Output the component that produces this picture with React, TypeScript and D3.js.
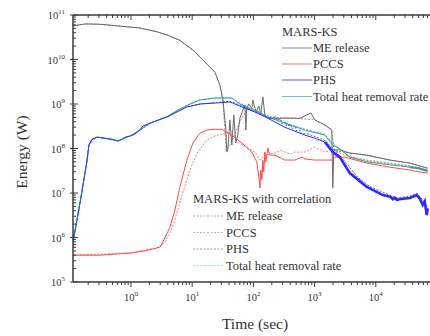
import { useEffect, useRef } from "react";
import * as d3 from "d3";

type Pt = [number, number];

// time (s), energy rate (W)
const meRelease: Pt[] = [
  [0.113, 5.7e10], [0.18, 6.3e10], [0.31, 6.2e10], [0.6, 5.7e10], [1.4, 5.1e10], [2.66, 4.2e10],
  [3.87, 3.55e10], [6.3, 2.7e10], [10.3, 1.63e10], [15, 9.75e9], [23.5, 5.2e9], [28.4, 2.67e9],
  [31.8, 1.23e9], [35.6, 2.6e8], [36.9, 8.3e7], [38.3, 9.3e7], [41.3, 4.4e8], [44.5, 1.2e8],
  [47.9, 5.7e8], [51.6, 1.33e8], [55.6, 2e8], [60.2, 4.8e8], [67.3, 7.3e8], [72.6, 9.5e8],
  [75.3, 2.6e8], [78.2, 8.1e8], [84.2, 1e9], [94.2, 8.1e8], [97.8, 1.23e9], [110, 6.6e8],
  [123, 9e8], [132, 5.7e8], [143, 1.44e9], [154, 5.7e8], [172, 4.8e8], [271, 4.8e8], [476, 4.8e8],
  [575, 4.8e8], [750, 5.7e8], [870, 6.3e8], [1009, 4.4e8], [1470, 3.4e8], [1910, 2.6e8],
  [1985, 1.3e7], [2060, 9.3e7], [2585, 9.3e7], [3765, 7.9e7], [7140, 7.1e7], [16940, 5.5e7],
  [35900, 4.7e7], [70600, 3.6e7],
];
const pccs: Pt[] = [
  [0.113, 4e5], [0.31, 4e5], [0.66, 4.3e5], [1, 4.5e5], [1.69, 5e5], [2.66, 5.8e5], [2.97, 6.1e5],
  [3.33, 7.9e5], [4.33, 1.7e6], [5.23, 4.15e6], [6.31, 1.37e7], [8.2, 5.5e7], [10.3, 1.33e8],
  [13.4, 2.2e8], [17.4, 2.6e8], [23.5, 2.7e8], [30.6, 2.7e8], [44.5, 2e8], [64.9, 1.33e8],
  [94.2, 8.3e7], [114, 5e7], [123, 2.2e7], [128, 1.3e7], [132, 3.3e7], [138, 2e7], [143, 5.5e7],
  [148, 3e7], [154, 8.3e7], [160, 5e7], [172, 1.03e8], [186, 7.1e7], [224, 7.1e7], [327, 5.5e7],
  [476, 5.5e7], [619, 6.4e7], [700, 5.8e7], [1009, 5.5e7], [1910, 5.5e7], [2142, 6.4e7],
  [3120, 6.4e7], [7140, 4.7e7], [16940, 3.8e7], [35900, 3.3e7], [50000, 3e7], [70600, 2.8e7],
];
const phs: Pt[] = [
  [0.113, 7.9e5], [0.15, 7e6], [0.19, 5e7], [0.206, 1.2e8], [0.23, 1.6e8], [0.28, 1.8e8],
  [0.38, 1.7e8], [0.49, 1.6e8], [0.61, 1.48e8], [0.71, 1.6e8], [0.8, 1.8e8], [0.96, 1.9e8],
  [1.16, 2.1e8], [1.35, 2.5e8], [1.57, 3.2e8], [2.04, 3.7e8], [3.87, 5.1e8], [8.2, 8.6e8],
  [13.4, 1e9], [23.5, 1.05e9], [41.3, 1.11e9], [46, 1.05e9], [60, 9e8], [106, 6.6e8], [172, 4.8e8],
  [327, 3e8], [693, 2e8], [1009, 1.7e8], [1470, 1.4e8], [1985, 8.3e7], [2585, 6.4e7], [3765, 2.8e7],
  [7140, 1.37e7], [13040, 9e6], [17500, 8.2e6], [19000, 7.2e6], [20500, 7.8e6], [22000, 7e6],
  [26000, 7.3e6], [35900, 7.7e6], [46700, 9e6], [52000, 7.6e6], [58500, 5.4e6], [63000, 6.5e6],
  [68000, 3.2e6], [70600, 4.5e6],
];
const totalRemoval: Pt[] = [
  [0.113, 7.9e5], [0.15, 7e6], [0.19, 5e7], [0.206, 1.2e8], [0.23, 1.6e8], [0.28, 1.8e8],
  [0.49, 1.6e8], [0.61, 1.48e8], [0.96, 1.9e8], [1.35, 2.5e8], [2.04, 3.7e8], [3.87, 5.2e8],
  [6.3, 7.7e8], [9.2, 1e9], [13.4, 1.23e9], [23.5, 1.36e9], [44.5, 1.36e9], [60, 1e9], [128, 6.3e8],
  [172, 5.1e8], [327, 3.7e8], [693, 2.6e8], [1470, 2e8], [1985, 1.2e8], [2585, 9.8e7], [3765, 6.4e7],
  [7140, 5e7], [16940, 4.3e7], [35900, 3.8e7], [50000, 3.6e7], [70600, 3.1e7],
];

// with correlation
const meReleaseCorr: Pt[] = [
  [0.113, 5.7e10], [0.18, 6.3e10], [0.31, 6.2e10], [0.6, 5.7e10], [1.4, 5.1e10], [2.66, 4.2e10],
  [3.87, 3.55e10], [6.3, 2.7e10], [10.3, 1.63e10], [15, 9.75e9], [23.5, 5.2e9], [28.4, 2.67e9],
  [31.8, 1.23e9], [36, 9e7], [45, 1.5e8], [60, 4e8], [80, 8e8], [110, 7e8], [170, 5e8], [600, 4.7e8],
  [1000, 4.4e8], [1900, 2.7e8], [2100, 9e7], [3765, 7.9e7], [7140, 7.1e7], [16940, 5.5e7],
  [35900, 4.7e7], [70600, 3.6e7],
];
const pccsCorr: Pt[] = [
  [0.113, 4e5], [1, 4.5e5], [2.97, 6.1e5], [3.6, 8e5], [4.8, 1.7e6], [7, 1e7], [9.2, 3.3e7],
  [12, 7.9e7], [17.4, 1.55e8], [25.3, 2e8], [38.3, 2.2e8], [55.6, 1.4e8], [106, 8.3e7], [128, 5.5e7],
  [154, 7.1e7], [224, 7.9e7], [280, 9e7], [327, 8.3e7], [400, 7.5e7], [476, 8.3e7], [693, 8.3e7],
  [1009, 1.08e8], [1470, 8.3e7], [1985, 9.3e7], [3765, 6.4e7], [7140, 5.5e7], [16940, 4.7e7],
  [35900, 4.05e7], [70600, 3.3e7],
];
const phsCorr: Pt[] = [
  [0.113, 7.9e5], [0.15, 7e6], [0.19, 5e7], [0.206, 1.2e8], [0.23, 1.6e8], [0.28, 1.8e8],
  [0.49, 1.6e8], [0.61, 1.48e8], [0.96, 1.9e8], [1.35, 2.5e8], [2.04, 3.7e8], [3.87, 5.1e8],
  [8.2, 8.6e8], [13.4, 1e9], [41.3, 1.15e9], [60, 9.5e8], [106, 6.6e8], [200, 4.6e8], [230, 5.4e8],
  [240, 4.4e8], [280, 4.6e8], [290, 3.6e8], [340, 3.9e8], [350, 3.2e8], [410, 3.4e8], [420, 2.8e8],
  [490, 3e8], [500, 2.5e8], [580, 2.6e8], [600, 2.2e8], [800, 2.1e8], [1500, 1.5e8], [2000, 1e8],
  [3000, 5.5e7], [5000, 2.3e7], [8000, 1.4e7], [14000, 1e7], [22000, 7.8e6], [36000, 8.5e6],
  [47000, 1e7], [60000, 6.5e6], [70600, 5e6],
];
const totalRemovalCorr: Pt[] = [
  [0.113, 7.9e5], [0.15, 7e6], [0.19, 5e7], [0.206, 1.2e8], [0.28, 1.8e8], [0.61, 1.48e8],
  [0.96, 1.9e8], [2.04, 3.7e8], [3.87, 5.2e8], [6.3, 7.6e8], [13.4, 1.25e9], [30, 1.4e9],
  [45, 1.35e9], [60, 1.05e9], [128, 6.5e8], [327, 3.8e8], [700, 2.7e8], [1470, 2.1e8], [2000, 1.3e8],
  [3765, 6.8e7], [7140, 5.3e7], [17000, 4.5e7], [36000, 4e7], [70600, 3.3e7],
];

const seriesNames = ["ME release", "PCCS", "PHS", "Total heat removal rate"];
const seriesColors = ["#6a6a6a", "#ff4a4a", "#2a2aff", "#2aa59a"];
const legendColors = ["#777777", "#ff6060", "#4a4aff", "#5cbcbc"];
const xLabelExps = [0, 1, 2, 3, 4];
const yLabelExps = [5, 6, 7, 8, 9, 10, 11];

const W = 430;
const H = 336;

const App = () => {
  const svgRef = useRef<SVGSVGElement>(null);

  useEffect(() => {
    const svg = d3.select(svgRef.current);
    svg.selectAll("*").remove();

    const left = 73, top = 15, bottom = 282;
    const x = d3.scaleLog().domain([0.113, 1e5]).range([left, 437]);
    const y = d3.scaleLog().domain([1e5, 1e11]).range([bottom, top]);
    const font = "'Liberation Serif', 'Times New Roman', serif";
    const axisCol = "#3a3a3a";

    svg.append("defs").append("clipPath").attr("id", "plotclip")
      .append("rect").attr("x", left).attr("y", top).attr("width", W - left).attr("height", bottom - top);

    const line = d3.line<Pt>().x(d => x(d[0])).y(d => y(d[1]));
    const plot = svg.append("g").attr("clip-path", "url(#plotclip)");

    const solid = [meRelease, totalRemoval, phs, pccs];
    const solidIdx = [0, 3, 2, 1];
    solid.forEach((s, k) => {
      plot.append("path").datum(s).attr("d", line)
        .attr("fill", "none").attr("stroke", seriesColors[solidIdx[k]])
        .attr("stroke-width", 1);
    });
    // late PHS shows as a thick noisy band
    plot.append("path").datum(phs.filter(d => d[0] >= 1470)).attr("d", line)
      .attr("fill", "none").attr("stroke", seriesColors[2]).attr("stroke-width", 2.6);
    plot.append("path").datum(totalRemoval.filter(d => d[0] >= 17000)).attr("d", line)
      .attr("fill", "none").attr("stroke", seriesColors[3]).attr("stroke-width", 2);

    const dashed = [meReleaseCorr, pccsCorr, phsCorr, totalRemovalCorr];
    dashed.forEach((s, i) => {
      plot.append("path").datum(s).attr("d", line)
        .attr("fill", "none").attr("stroke", seriesColors[i])
        .attr("stroke-opacity", 0.75)
        .attr("stroke-width", 1)
        .attr("stroke-dasharray", "2,1.5");
    });

    // axes
    const ax = svg.append("g").attr("stroke", axisCol);
    ax.append("line").attr("x1", left).attr("x2", W).attr("y1", bottom).attr("y2", bottom).attr("stroke-width", 1.5);
    ax.append("line").attr("x1", left).attr("x2", W).attr("y1", top).attr("y2", top).attr("stroke-width", 1.5);
    ax.append("line").attr("x1", left).attr("x2", left).attr("y1", top).attr("y2", bottom).attr("stroke-width", 1.5);

    const isMajor = (v: number) => Math.abs(Math.log10(v) - Math.round(Math.log10(v))) < 1e-6;
    x.ticks().forEach(t => {
      const px = x(t);
      if (px < left || px > W) return;
      const len = isMajor(t) ? 5 : 3;
      ax.append("line").attr("x1", px).attr("x2", px).attr("y1", bottom).attr("y2", bottom + len).attr("stroke-width", 1);
      ax.append("line").attr("x1", px).attr("x2", px).attr("y1", top).attr("y2", top + len).attr("stroke-width", 1);
    });
    y.ticks().forEach(t => {
      const py = y(t);
      const major = isMajor(t);
      ax.append("line").attr("x1", major ? left - 3 : left).attr("x2", left + (major ? 5 : 3))
        .attr("y1", py).attr("y2", py).attr("stroke-width", 1);
    });

    const tl = svg.append("g").attr("font-family", font).attr("fill", "#333");
    xLabelExps.forEach(e => {
      const t = tl.append("text").attr("x", x(Math.pow(10, e))).attr("y", 301)
        .attr("text-anchor", "middle").attr("font-size", 10.5);
      t.append("tspan").text("10");
      t.append("tspan").attr("dy", -5).attr("font-size", 7).text(String(e));
    });
    yLabelExps.forEach(e => {
      const t = tl.append("text").attr("x", 65).attr("y", y(Math.pow(10, e)) + 4)
        .attr("text-anchor", "end").attr("font-size", 10.5);
      t.append("tspan").text("10");
      t.append("tspan").attr("dy", -5).attr("font-size", 7).text(String(e));
    });

    tl.append("text").attr("transform", "translate(27,152) rotate(-90)")
      .attr("text-anchor", "middle").attr("font-size", 15.5).text("Energy (W)");
    tl.append("text").attr("x", 255).attr("y", 329)
      .attr("text-anchor", "middle").attr("font-size", 15.5).text("Time (sec)");

    // legends
    const legend = (lx: number, titleY: number, rowY: number[], title: string, dash: boolean) => {
      const g = svg.append("g").attr("font-family", font).attr("font-size", 12.5).attr("fill", "#333");
      g.append("text").attr("x", lx).attr("y", titleY).text(title);
      seriesNames.forEach((n, i) => {
        g.append("line").attr("x1", lx).attr("x2", lx + 30).attr("y1", rowY[i]).attr("y2", rowY[i])
          .attr("stroke", legendColors[i]).attr("stroke-width", 1)
          .attr("stroke-opacity", dash ? 0.6 : 0.9)
          .attr("stroke-dasharray", dash ? "2,1.5" : null);
        g.append("text").attr("x", lx + (dash ? 33 : 31)).attr("y", rowY[i] + 4).text(n);
      });
    };
    legend(282, 36, [48, 64, 80, 96.5], "MARS-KS", false);
    legend(193, 203, [216, 232.5, 249, 265.5], "MARS-KS with correlation", true);
  }, []);

  return (
    <div style={{ position: "absolute", left: 0, top: 0 }}>
      <svg ref={svgRef} width={W} height={H} style={{ display: "block", background: "#fff" }} />
    </div>
  );
};

export default App;
